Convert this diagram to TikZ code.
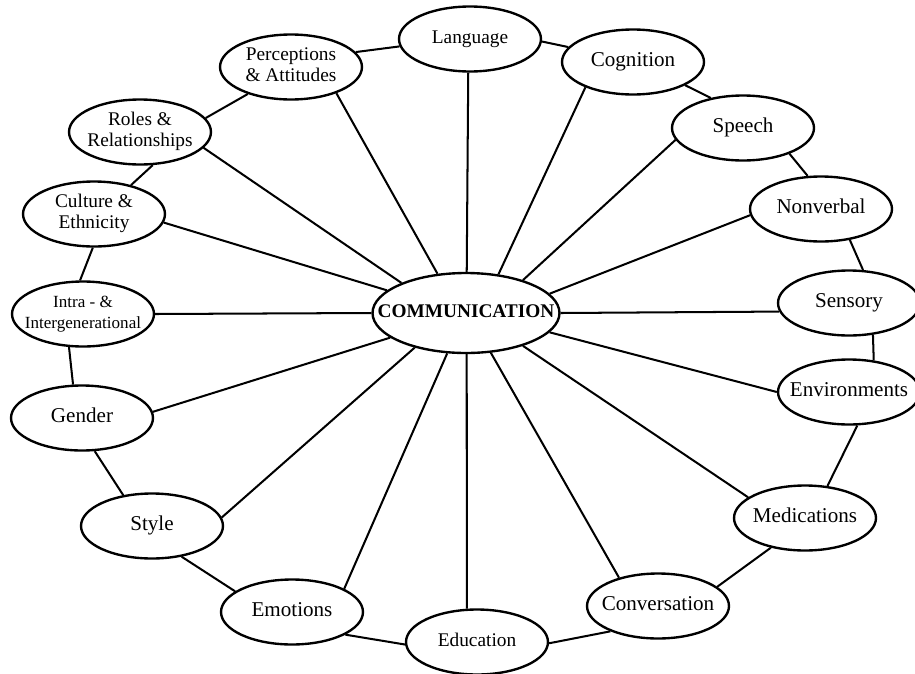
\documentclass[tikz,border=0pt]{standalone}
\usepackage{fontspec}
\setmainfont{Liberation Serif}
\usetikzlibrary{shapes.geometric}
\newcommand{\ringtext}[1]{\makebox[0pt]{\begin{tabular}{@{}c@{}}#1\end{tabular}}}

\begin{document}
\begin{tikzpicture}[x=0.02cm, y=-0.02cm,
  topic/.style={ellipse, draw=black, line width=1.35pt, minimum width=2.84cm, minimum height=1.3cm, inner sep=0pt, font=\fontsize{12}{12}\selectfont},
  smalltext/.style={font=\fontsize{11}{12}\selectfont},
  spoke/.style={line width=1.15pt}]
  \useasboundingbox (0,0) rectangle (915,673);

  \node[topic, minimum width=3.74cm, minimum height=1.6cm, font=\bfseries\fontsize{11}{12}\selectfont](Comm) at (466,313){\ringtext{COMMUNICATION}};

  \node[topic, smalltext](PA) at (291,67){\ringtext{Perceptions\\\& Attitudes}};
  \node[topic, smalltext](Lang) at (470,39){\ringtext{Language}};
  \node[topic](Cog) at (633,62){\ringtext{Cognition}};
  \node[topic](Sp) at (743,128){\ringtext{Speech}};
  \node[topic](NV) at (821,209){\ringtext{Nonverbal}};
  \node[topic](Sens) at (849,303){\ringtext{Sensory}};
  \node[topic](Env) at (849,392){\ringtext{Environments}};
  \node[topic](Med) at (805,518){\ringtext{Medications}};
  \node[topic](Conv) at (658,606){\ringtext{Conversation}};
  \node[topic, smalltext](Edu) at (477,642){\ringtext{Education}};
  \node[topic](Emo) at (292,612){\ringtext{Emotions}};
  \node[topic](Sty) at (152,526){\ringtext{Style}};
  \node[topic](Gen) at (82,418){\ringtext{Gender}};
  \node[topic, font=\fontsize{9.7}{11.5}\selectfont](IG) at (83,314){\ringtext{Intra - \&\\Intergenerational}};
  \node[topic, smalltext](CE) at (94,214){\ringtext{Culture \&\\Ethnicity}};
  \node[topic, smalltext](RR) at (140,132){\ringtext{Roles \&\\Relationships}};

  % outer ring
  \path[spoke]
  (PA.13) edge (Lang.186)
  (Lang.-2) edge (Cog.167)
  (Cog.-24) edge (Sp.137)
  (Sp.-29) edge (NV.112)
  (NV.-47) edge (Sens.67)
  (Sens.-53) edge (Env.52)
  (Env.-76) edge (Med.55)
  (Med.221) edge (Conv.18)
  (Conv.208) edge (Edu.-1)
  (Edu.182) edge (Emo.-23)
  (Emo.160) edge (Sty.-46)
  (Sty.133) edge (Gen.-69)
  (Gen.105) edge (IG.247)
  (IG.95) edge (CE.268)
  (CE.38) edge (RR.-69)
  (RR.12) edge (PA.212);

  % spokes
  \path[spoke]
  (Comm.126) edge (PA.-30)
  (Comm.89) edge (Lang.267)
  (Comm.50) edge (Cog.208)
  (Comm.30) edge (Sp.190)
  (Comm.13) edge (NV.185)
  (Comm.0) edge (Sens.187)
  (Comm.-13) edge (Env.180)
  (Comm.-30) edge (Med.160)
  (Comm.-58) edge (Conv.144)
  (Comm.-89) edge (Edu.107)
  (Comm.245) edge (Emo.24)
  (Comm.214) edge (Sty.7)
  (Comm.198) edge (Gen.5)
  (Comm.180) edge (IG.0)
  (Comm.164) edge (CE.-7)
  (Comm.155) edge (RR.-14);
\end{tikzpicture}
\end{document}
